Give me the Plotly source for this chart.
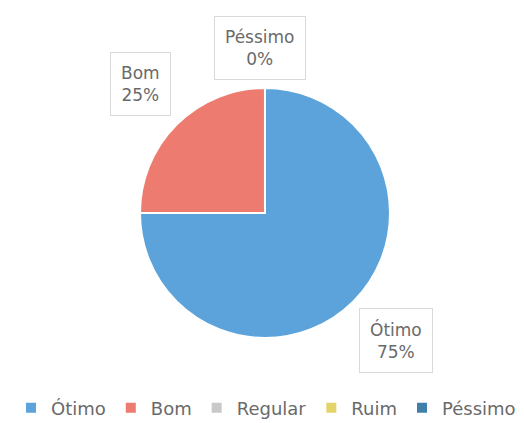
import plotly.graph_objects as go

categories = ["Ótimo", "Bom", "Regular", "Ruim", "Péssimo"]
values = [75, 25, 0, 0, 0]
colors = ["#5BA3DA", "#EE7B70", "#C9C9C9", "#E3D36A", "#3F7FA8"]

# page body has an 8px margin; size figure to fit the window
OFF = 8
W, H = 524 - OFF, 423 - OFF
FONT = "DejaVu Sans, sans-serif"

fig = go.Figure(go.Pie(
    labels=categories, values=values, sort=False, direction="clockwise", rotation=0,
    marker=dict(colors=colors, line=dict(color="white", width=2)),
    textinfo="none", hoverinfo="label+percent",
    domain=dict(x=[0.2558, 0.7403], y=[0.2048, 0.8072]),
))

total = sum(values)
label_pos = {"Péssimo": (260, 48), "Bom": (140, 84), "Ótimo": (396, 340)}
for cat, v in zip(categories, values):
    if cat in label_pos:
        px, py = label_pos[cat]
        fig.add_annotation(
            x=(px - OFF) / W, y=1 - (py - OFF) / H, xref="paper", yref="paper",
            xanchor="center", yanchor="middle",
            text=f"{cat}<br>{round(100 * v / total)}%", showarrow=False,
            font=dict(family=FONT, size=17, color="#6a6a6a"),
            bordercolor="#D9D9D9", borderwidth=1, borderpad=10, bgcolor="white",
            align="center",
        )

fig.update_layout(
    width=W, height=H, margin=dict(l=0, r=0, t=0, b=0, autoexpand=False),
    paper_bgcolor="white", plot_bgcolor="white",
    showlegend=True,
    legend=dict(orientation="h", x=0.5, xanchor="center", y=1 - (408 - OFF) / H, yanchor="middle",
                itemwidth=30, tracegroupgap=0,
                font=dict(family=FONT, size=18, color="#6a6a6a")),
)
fig.write_html("out.html")
